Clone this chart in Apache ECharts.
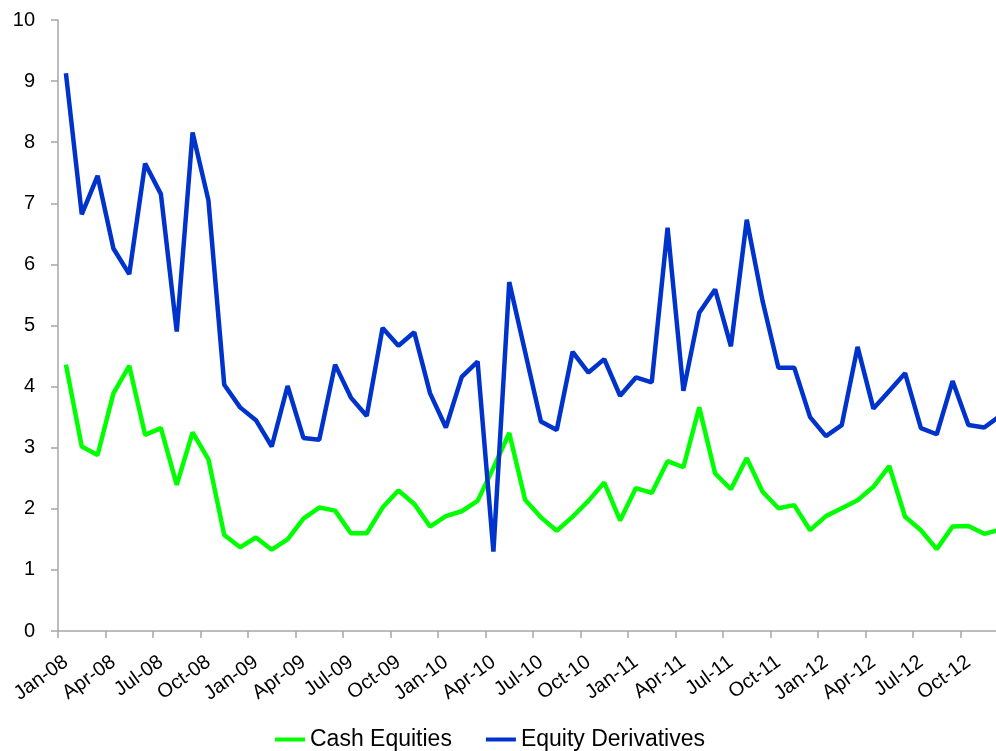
<!DOCTYPE html>
<html>
<head>
<meta charset="utf-8">
<title>Cash Equities vs Equity Derivatives</title>
<script src="https://cdn.jsdelivr.net/npm/echarts@6/dist/echarts.min.js"></script>
<style>
  html, body { margin: 0; padding: 0; background: #ffffff; overflow: hidden; }
  /* the plot runs a little past the right edge of the window */
  #chart { width: 1008px; height: 751px; }
</style>
</head>
<body>
<div id="chart"></div>
<script>
// Monthly observations, Jan 2008 – Dec 2012
const months = [
  'Jan-08','Feb-08','Mar-08','Apr-08','May-08','Jun-08','Jul-08','Aug-08','Sep-08','Oct-08','Nov-08','Dec-08',
  'Jan-09','Feb-09','Mar-09','Apr-09','May-09','Jun-09','Jul-09','Aug-09','Sep-09','Oct-09','Nov-09','Dec-09',
  'Jan-10','Feb-10','Mar-10','Apr-10','May-10','Jun-10','Jul-10','Aug-10','Sep-10','Oct-10','Nov-10','Dec-10',
  'Jan-11','Feb-11','Mar-11','Apr-11','May-11','Jun-11','Jul-11','Aug-11','Sep-11','Oct-11','Nov-11','Dec-11',
  'Jan-12','Feb-12','Mar-12','Apr-12','May-12','Jun-12','Jul-12','Aug-12','Sep-12','Oct-12','Nov-12','Dec-12'
];

const cashEquities = [
  4.36, 3.02, 2.88, 3.89, 4.34, 3.21, 3.32, 2.39, 3.25, 2.81, 1.57, 1.37,
  1.53, 1.33, 1.50, 1.84, 2.02, 1.97, 1.60, 1.60, 2.02, 2.30, 2.08, 1.71,
  1.88, 1.96, 2.13, 2.67, 3.24, 2.15, 1.86, 1.64, 1.87, 2.13, 2.43, 1.81,
  2.34, 2.26, 2.78, 2.68, 3.66, 2.58, 2.32, 2.83, 2.28, 2.01, 2.06, 1.65,
  1.88, 2.01, 2.14, 2.36, 2.70, 1.87, 1.65, 1.34, 1.71, 1.72, 1.59, 1.66
];

const equityDerivatives = [
  9.13, 6.82, 7.45, 6.26, 5.84, 7.65, 7.15, 4.90, 8.16, 7.05, 4.03, 3.66,
  3.45, 3.02, 4.01, 3.16, 3.13, 4.36, 3.82, 3.52, 4.96, 4.67, 4.89, 3.89,
  3.33, 4.16, 4.41, 1.30, 5.71, 4.57, 3.43, 3.29, 4.57, 4.23, 4.45, 3.85,
  4.15, 4.07, 6.60, 3.93, 5.21, 5.59, 4.66, 6.73, 5.40, 4.31, 4.31, 3.50,
  3.19, 3.37, 4.65, 3.64, 3.93, 4.22, 3.32, 3.22, 4.09, 3.37, 3.33, 3.52
];

const seriesNames = ['Cash Equities', 'Equity Derivatives'];

const FONT = '"Liberation Sans", "DejaVu Sans", sans-serif';
const axisGray = '#a6a6a6';

const chart = echarts.init(document.getElementById('chart'), null, { renderer: 'canvas' });

chart.setOption({
  animation: false,
  backgroundColor: '#ffffff',
  grid: { left: 58, right: 0, top: 20, bottom: 120, containLabel: false },
  legend: {
    data: seriesNames,
    left: 270,
    top: 723,
    itemWidth: 30,
    itemHeight: 4,
    itemGap: 34,
    icon: 'rect',
    textStyle: { fontFamily: FONT, fontSize: 23, color: '#000000' }
  },
  xAxis: {
    type: 'category',
    data: months,
    boundaryGap: true,
    axisLine: { show: true, lineStyle: { color: axisGray, width: 1.5 } },
    axisTick: { show: true, interval: 2, length: 7, lineStyle: { color: axisGray, width: 1.5 } },
    axisLabel: {
      interval: 2,
      rotate: 36,
      margin: 29,
      fontFamily: FONT,
      fontSize: 20,
      color: '#000000'
    },
    splitLine: { show: false }
  },
  yAxis: {
    type: 'value',
    min: 0,
    max: 10,
    interval: 1,
    axisLine: { show: true, lineStyle: { color: axisGray, width: 1.5 } },
    axisTick: { show: true, length: 7, lineStyle: { color: axisGray, width: 1.5 } },
    axisLabel: { margin: 23, fontFamily: FONT, fontSize: 20, color: '#000000' },
    splitLine: { show: false }
  },
  series: [
    {
      name: seriesNames[0],
      type: 'line',
      data: cashEquities,
      symbol: 'none',
      color: '#00ff00',
      lineStyle: { color: '#00ff00', width: 4.5 },
      z: 2
    },
    {
      name: seriesNames[1],
      type: 'line',
      data: equityDerivatives,
      symbol: 'none',
      color: '#0033cc',
      lineStyle: { color: '#0033cc', width: 4.5 },
      z: 3
    }
  ]
});
</script>
</body>
</html>
